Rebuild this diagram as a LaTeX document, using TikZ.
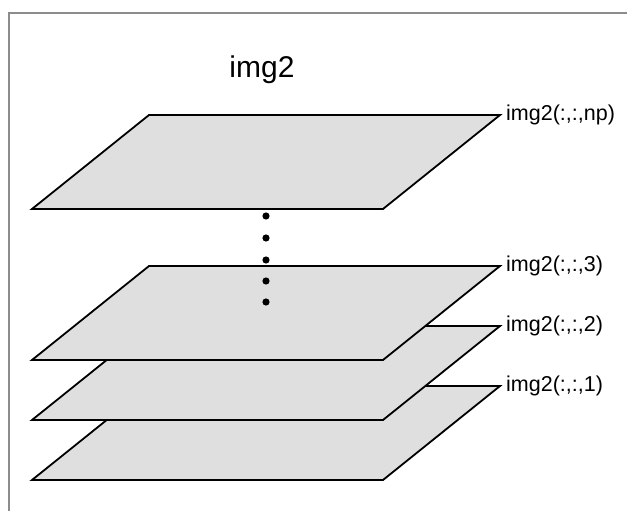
\documentclass[tikz,border=0pt]{standalone}
\usepackage{fontspec}
\setmainfont{Liberation Sans}
\usepackage{tikz}
\usetikzlibrary{positioning}

\begin{document}
\begin{tikzpicture}[x=1pt,y=-1pt,
    plane/.style={draw=black, line width=1.8pt, fill=gray!25},
    layername/.style={inner sep=0pt, font=\fontsize{21.5}{24}\selectfont}]
\useasboundingbox (0,0) rectangle (627,511);
\draw[gray!90, line width=1.2pt] (9,511) -- (9,13) -- (627,13);
\node[font=\fontsize{30}{34}\selectfont] (title) at (262,70) {img2};
% stack of slices, bottom one first so each covers the one below
\foreach \y/\name in {386/one, 326/two, 266/three, 115/np} {
  \draw[plane] (149,\y) -- (500,\y) coordinate (\name) -- (383,\y+94) -- (32,\y+94) -- cycle;
}
\foreach \y in {216,238,260,281,302}
  \fill (266,\y) circle (3.6pt);
\node[layername, right=6pt of np] (npname) {img2(:,:,np)};
\node[layername, right=6pt of three] (threename) {img2(:,:,3)};
\node[layername, right=6pt of two] (twoname) {img2(:,:,2)};
\node[layername, right=6pt of one] (onename) {img2(:,:,1)};
\end{tikzpicture}
\end{document}
